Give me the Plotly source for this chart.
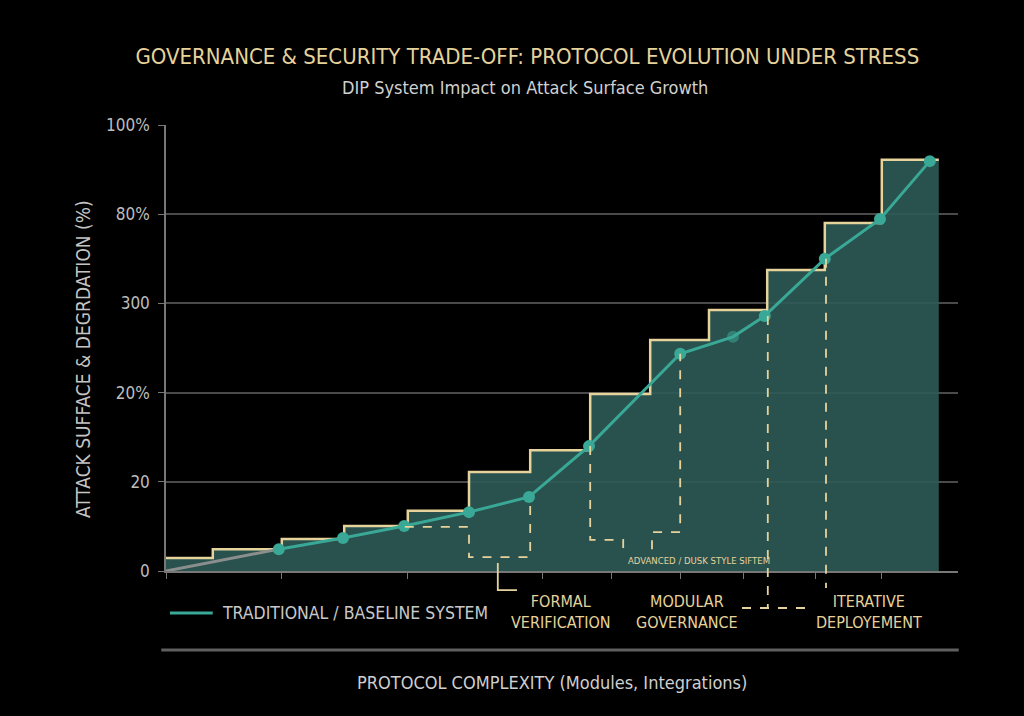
import plotly.graph_objects as go

# step outline (edges on complexity axis, level in %)
step_x = [0, 0.78, 1.93, 2.97, 4.03, 5.05, 6.07, 7.07, 8.07, 9.05, 10.02, 10.98, 11.93, 12.88]
step_y = [2.9, 4.9, 7.2, 10.1, 13.5, 22.2, 27.1, 39.7, 51.8, 58.5, 67.5, 78.0, 92.2, 92.2]

# baseline system points
base_x = [1.88, 2.95, 3.97, 5.05, 6.05, 7.05, 8.57, 9.45, 9.98, 10.98, 11.9, 12.73]
base_y = [4.9, 7.4, 10.1, 13.2, 16.6, 28.0, 48.7, 52.5, 57.2, 70.0, 78.9, 91.9]
base_opacity = [1, 1, 1, 1, 1, 1, 1, 0.55, 1, 1, 1, 1]

start_x = [0, 1.88]
start_y = [0, 4.9]

y_ticks = [0, 20, 40, 60, 80, 100]
y_labels = ['0', '20', '20%', '300', '80%', '100%']
x_ticks = [0, 1.93, 4.02, 6.27, 7.43, 8.58, 9.63, 10.82, 11.93]

# dashed leader paths (x, y in %)
leaders = [
    ([3.98, 5.05, 5.05, 6.07, 6.07], [9.9, 9.9, 3.1, 3.1, 16.6]),
    ([7.07, 7.07, 7.62, 7.62], [28.0, 7.0, 7.0, 4.7]),
    ([8.1, 8.1, 8.57, 8.57], [4.9, 8.7, 8.7, 48.7]),
    ([10.03, 10.03], [57.2, -8.3]),
    ([9.6, 10.7], [-8.3, -8.3]),
    ([11.0, 11.0], [70.0, -3.8]),
]
bracket_x = [5.53, 5.53, 5.85]
bracket_y = [1.8, -4.3, -4.3]

phase_labels = ['FORMAL<br>VERIFICATION', 'MODULAR<br>GOVERNANCE', 'ITERATIVE<br>DEPLOYEMENT']
phase_x = [6.58, 8.69, 11.72]

GOLD = '#e6d39b'
TEAL = '#3aa896'
FILL = 'rgba(45,90,87,0.9)'
FONT = 'Liberation Sans Narrow, DejaVu Sans Condensed, Roboto, sans-serif'

fig = go.Figure()
fig.add_trace(go.Scatter(
    x=step_x, y=step_y, mode='lines', line=dict(shape='hv', color=GOLD, width=2.5),
    fill='tozeroy', fillcolor=FILL, showlegend=False, hoverinfo='skip'
))
fig.add_trace(go.Scatter(
    x=start_x, y=start_y, mode='lines', line=dict(color='#8a8f8e', width=3),
    showlegend=False
))
fig.add_trace(go.Scatter(
    x=base_x, y=base_y, mode='lines+markers',
    line=dict(color=TEAL, width=3),
    marker=dict(size=12, color=TEAL, opacity=base_opacity),
    showlegend=False
))

def path_of(xs, ys):
    pts = ['%s%f,%f' % ('M' if i == 0 else 'L', x, y / 100.0) for i, (x, y) in enumerate(zip(xs, ys))]
    return ' '.join(pts)

shapes = []
for xs, ys in leaders:
    shapes.append(dict(type='path', xref='x', yref='paper', path=path_of(xs, ys),
                       line=dict(color=GOLD, width=1.8, dash='dash')))
shapes.append(dict(type='path', xref='x', yref='paper', path=path_of(bracket_x, bracket_y),
                   line=dict(color=GOLD, width=1.8)))
# legend swatch
shapes.append(dict(type='line', xref='paper', yref='paper', x0=0.005, x1=0.059, y0=-0.094, y1=-0.094,
                   line=dict(color=TEAL, width=3)))
# bottom rule
shapes.append(dict(type='line', xref='paper', yref='paper', x0=-0.006, x1=1.001, y0=-0.177, y1=-0.177,
                   line=dict(color='#5f5f5f', width=3)))

annotations = [
    dict(text='DIP System Impact on Attack Surface Growth', xref='paper', yref='paper',
         x=0.453, y=1.083, xanchor='center', yanchor='middle', showarrow=False,
         font=dict(size=18, color='#d0d0d0', family=FONT)),
    dict(text='ATTACK SUFFACE & DEGRDATION (%)', xref='paper', yref='paper', textangle=-90,
         x=-0.105, y=0.475, xanchor='center', yanchor='middle', showarrow=False,
         font=dict(size=19, color='#c4c4c4', family=FONT)),
    dict(text='TRADITIONAL / BASELINE SYSTEM', xref='paper', yref='paper', xanchor='left',
         yanchor='middle', x=0.068, y=-0.094, showarrow=False,
         font=dict(size=17.5, color='#c8c8c8', family=FONT)),
    dict(text='ADVANCED / DUSK STYLE SIFTEM', xref='x', yref='paper', xanchor='center',
         yanchor='middle', x=8.88, y=0.024, showarrow=False,
         font=dict(size=9.5, color=GOLD, family=FONT)),
    dict(text='PROTOCOL COMPLEXITY (Modules, Integrations)', xref='paper', yref='paper',
         x=0.487, y=-0.249, xanchor='center', yanchor='middle', showarrow=False,
         font=dict(size=18, color='#cfcfcf', family=FONT)),
]
for label, lx in zip(phase_labels, phase_x):
    annotations.append(dict(text=label, xref='x', yref='paper', x=lx, y=-0.092,
                            xanchor='center', yanchor='middle', showarrow=False,
                            font=dict(size=16, color=GOLD, family=FONT)))

fig.update_layout(
    width=1024, height=716,
    margin=dict(l=166, r=66, t=125, b=145),
    paper_bgcolor='#000000', plot_bgcolor='#000000',
    title=dict(text='GOVERNANCE & SECURITY TRADE-OFF: PROTOCOL EVOLUTION UNDER STRESS',
               xref='container', x=0.515, y=0.922, xanchor='center', yanchor='middle',
               font=dict(size=22, color=GOLD, family=FONT)),
    xaxis=dict(range=[0, 13.2], showgrid=False, zeroline=False, showline=True,
               linecolor='#777', linewidth=1.5, ticks='outside', ticklen=6, tickcolor='#777',
               tickvals=x_ticks, ticktext=[''] * len(x_ticks)),
    yaxis=dict(range=[0, 100], tickvals=y_ticks, ticktext=y_labels, showgrid=True,
               gridcolor='#4a4a4a', gridwidth=1.5, zeroline=False, showline=True,
               linecolor='#777', linewidth=1.5, ticks='outside', ticklen=6, tickcolor='#777',
               ticklabelstandoff=5,
               tickfont=dict(size=17, color='#bdbdbd', family=FONT)),
    shapes=shapes, annotations=annotations, showlegend=False,
)

fig.write_html('out.html', config={'displayModeBar': False},
               post_script="document.body.style.margin='0';")
